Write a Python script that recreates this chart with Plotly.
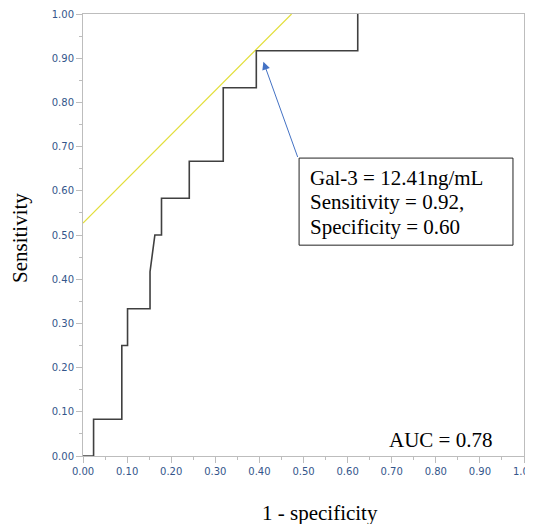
import plotly.graph_objects as go

# ROC curve points (1 - specificity, sensitivity)
fpr = [0.0, 0.024, 0.024, 0.088, 0.088, 0.101, 0.101, 0.152, 0.152, 0.157, 0.163, 0.178, 0.178, 0.241, 0.241, 0.318, 0.318, 0.393, 0.393, 0.623, 0.623]
tpr = [0.0, 0.0, 0.083, 0.083, 0.25, 0.25, 0.333, 0.333, 0.417, 0.458, 0.5, 0.5, 0.583, 0.583, 0.667, 0.667, 0.833, 0.833, 0.917, 0.917, 1.0]

# tangent (cut-off) line
tan_x = [0.0, 0.473]
tan_y = [0.527, 1.0]

box_lines = ["Gal-3 = 12.41ng/mL", "Sensitivity = 0.92,", "Specificity = 0.60"]
auc_text = "AUC = 0.78"
x_title = "1 - specificity"
y_title = "Sensitivity"

serif = "Liberation Serif, Times New Roman, serif"
tickfont = dict(family="DejaVu Sans, Verdana, sans-serif", size=10, color="#34568B")

fig = go.Figure()
fig.add_trace(go.Scatter(x=tan_x, y=tan_y, mode="lines",
                         line=dict(color="#E2DE3A", width=1.2), hoverinfo="skip", showlegend=False))
fig.add_trace(go.Scatter(x=fpr, y=tpr, mode="lines",
                         line=dict(color="#404040", width=1.6), cliponaxis=False, showlegend=False))

axis_common = dict(range=[0, 1], dtick=0.1, tick0=0, tickformat=".2f", ticks="outside",
                   ticklen=6, tickcolor="#BDBDBD", tickwidth=1,
                   showline=True, linecolor="#BDBDBD", linewidth=1, mirror=True,
                   showgrid=False, zeroline=False, tickfont=tickfont,
                   ticklabeloverflow="allow", automargin=False,
                   minor=dict(dtick=0.05, ticks="outside", ticklen=3, tickcolor="#BDBDBD", showgrid=False))
fig.update_xaxes(**axis_common)
fig.update_yaxes(**axis_common)

# annotation box
fig.add_shape(type="rect", xref="x", yref="y", x0=0.490, x1=0.975, y0=0.477, y1=0.674,
              line=dict(color="#222222", width=1), fillcolor="white", layer="above")
for txt, yy in zip(box_lines, [0.628, 0.574, 0.518]):
    fig.add_annotation(x=0.510, y=yy, xref="x", yref="y", text=txt, showarrow=False,
                       xanchor="left", yanchor="middle", font=dict(family=serif, size=21, color="black"))

# arrow
fig.add_annotation(x=0.409, y=0.892, ax=0.488, ay=0.673, xref="x", yref="y", axref="x", ayref="y",
                   text="", showarrow=True, arrowhead=2, arrowsize=1.6, arrowwidth=1,
                   arrowcolor="#4472C4", standoff=0)

fig.add_annotation(x=0.932, y=0.036, xref="x", yref="y", text=auc_text, showarrow=False,
                   xanchor="right", yanchor="middle", font=dict(family=serif, size=21, color="black"))

fig.add_annotation(x=0.537, y=-0.129, xref="paper", yref="paper", text=x_title, showarrow=False,
                   xanchor="center", yanchor="middle", font=dict(family=serif, size=21, color="black"))
fig.add_annotation(x=-0.143, y=0.493, xref="paper", yref="paper", text=y_title, showarrow=False,
                   textangle=-90, xanchor="center", yanchor="middle", font=dict(family=serif, size=21, color="black"))

# page body has an 8px default margin, so the figure is sized/offset to compensate
fig.update_layout(width=525, height=516, margin=dict(l=75, r=9, t=6, b=68, autoexpand=False),
                  plot_bgcolor="white", paper_bgcolor="white", showlegend=False)

fig.write_html("out.html")
